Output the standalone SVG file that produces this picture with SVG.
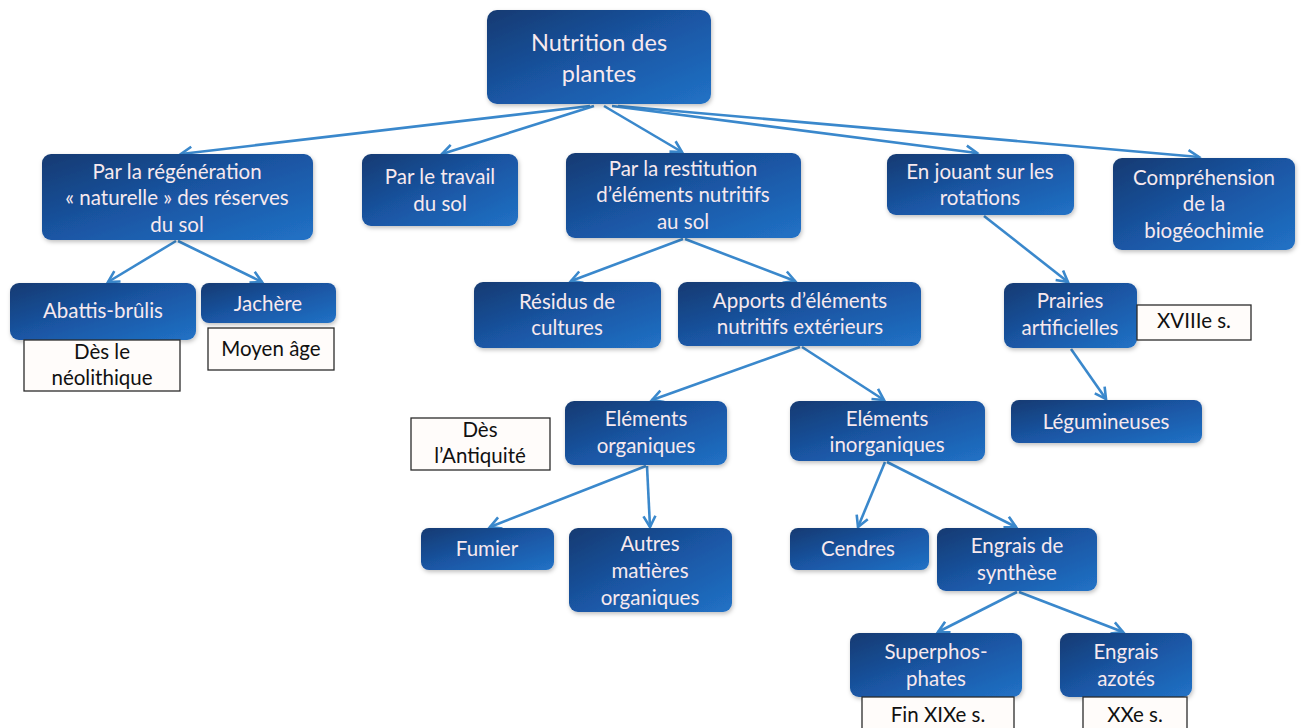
<svg xmlns="http://www.w3.org/2000/svg" width="1307" height="728" viewBox="0 0 1307 728">
<style>
.box{fill:url(#g);filter:url(#sh)}
.t{font-family:Lato,"Open Sans","Liberation Sans",sans-serif;font-size:20.5px;fill:#f7e9ee;text-anchor:middle}
.root{font-size:23.5px}
.lab{fill:#fffcfa;stroke:#2b2b2b;stroke-width:1.3}
.lt{font-family:Lato,"Open Sans","Liberation Sans",sans-serif;font-size:20.5px;fill:#111;text-anchor:middle}
.c line{stroke:#3a88cc;stroke-width:2.6;marker-end:url(#ah)}
</style>
<defs>
<linearGradient id="g" x1="0" y1="0" x2="1" y2="1">
<stop offset="0" stop-color="#143a72"/>
<stop offset="0.5" stop-color="#1a56a4"/>
<stop offset="1" stop-color="#2172c6"/>
</linearGradient>
<filter id="sh" x="-10%" y="-10%" width="125%" height="130%">
<feDropShadow dx="1" dy="2" stdDeviation="2" flood-color="#000" flood-opacity="0.25"/>
</filter>
<marker id="ah" markerUnits="userSpaceOnUse" markerWidth="18" markerHeight="18" viewBox="0 0 18 18" refX="15" refY="9" orient="auto">
<path d="M4,3 L15,9 L4,15" fill="none" stroke="#3a88cc" stroke-width="2.6" stroke-linejoin="miter"/>
</marker>
</defs>
<rect width="1307" height="728" fill="#fff"/>

<g id="connectors" class="c">
<line x1="590" y1="106" x2="181" y2="154"/>
<line x1="594" y1="106" x2="442" y2="154"/>
<line x1="604" y1="106" x2="682" y2="152"/>
<line x1="612" y1="106" x2="977" y2="153"/>
<line x1="618" y1="106" x2="1199" y2="157"/>
<line x1="176" y1="241" x2="108" y2="282"/>
<line x1="178" y1="241" x2="262" y2="282"/>
<line x1="683" y1="239" x2="571" y2="281"/>
<line x1="685" y1="239" x2="795" y2="281"/>
<line x1="800" y1="347" x2="652" y2="400"/>
<line x1="802" y1="347" x2="884" y2="400"/>
<line x1="646" y1="466" x2="490" y2="527"/>
<line x1="647" y1="466" x2="650" y2="527"/>
<line x1="885" y1="462" x2="858" y2="527"/>
<line x1="887" y1="462" x2="1016" y2="527"/>
<line x1="1017" y1="592" x2="938" y2="632"/>
<line x1="1019" y1="592" x2="1123" y2="632"/>
<line x1="984" y1="216" x2="1068" y2="282"/>
<line x1="1071" y1="349" x2="1106" y2="399"/>
</g>

<g id="root"><rect class="box" x="487" y="10" width="224" height="94" rx="10"/>
<text class="t root" x="599" y="51">Nutrition des</text><text class="t root" x="599" y="82">plantes</text></g>

<g id="n-regeneration"><rect class="box" x="42" y="154" width="271" height="86" rx="9"/>
<text class="t" x="177" y="179">Par la régénération</text><text class="t" x="177" y="205">« naturelle » des réserves</text><text class="t" x="177" y="232">du sol</text></g>

<g id="n-travail"><rect class="box" x="362" y="154" width="156" height="72" rx="9"/>
<text class="t" x="440" y="184">Par le travail</text><text class="t" x="440" y="211">du sol</text></g>

<g id="n-restitution"><rect class="box" x="566" y="153" width="235" height="85" rx="9"/>
<text class="t" x="683" y="176">Par la restitution</text><text class="t" x="683" y="202">d’éléments nutritifs</text><text class="t" x="683" y="229">au sol</text></g>

<g id="n-rotations"><rect class="box" x="887" y="154" width="187" height="61" rx="9"/>
<text class="t" x="980" y="179">En jouant sur les</text><text class="t" x="980" y="205">rotations</text></g>

<g id="n-biogeochimie"><rect class="box" x="1113" y="158" width="182" height="92" rx="9"/>
<text class="t" x="1204" y="185">Compréhension</text><text class="t" x="1204" y="211">de la</text><text class="t" x="1204" y="238">biogéochimie</text></g>

<g id="n-abattis"><rect class="box" x="10" y="283" width="186" height="57" rx="9"/>
<text class="t" x="103" y="318">Abattis-brûlis</text></g>
<g id="l-neolithique"><rect class="lab" x="24" y="340" width="156" height="51"/>
<text class="lt" x="102" y="359">Dès le</text><text class="lt" x="102" y="385">néolithique</text></g>

<g id="n-jachere"><rect class="box" x="201" y="283" width="135" height="40" rx="8"/>
<text class="t" x="268" y="311">Jachère</text></g>
<g id="l-moyenage"><rect class="lab" x="208" y="328" width="126" height="42"/>
<text class="lt" x="271" y="356">Moyen âge</text></g>

<g id="n-residus"><rect class="box" x="474" y="282" width="187" height="66" rx="9"/>
<text class="t" x="567" y="309">Résidus de</text><text class="t" x="567" y="335">cultures</text></g>

<g id="n-apports"><rect class="box" x="678" y="282" width="243" height="64" rx="9"/>
<text class="t" x="800" y="308">Apports d’éléments</text><text class="t" x="800" y="334">nutritifs extérieurs</text></g>

<g id="n-prairies"><rect class="box" x="1004" y="283" width="133" height="65" rx="9"/>
<text class="t" x="1070" y="308">Prairies</text><text class="t" x="1070" y="335">artificielles</text></g>
<g id="l-xviii"><rect class="lab" x="1137" y="305" width="114" height="35"/>
<text class="lt" x="1194" y="328">XVIIIe s.</text></g>

<g id="n-organiques"><rect class="box" x="565" y="401" width="162" height="64" rx="9"/>
<text class="t" x="646" y="426">Eléments</text><text class="t" x="646" y="453">organiques</text></g>
<g id="l-antiquite"><rect class="lab" x="411" y="418" width="139" height="52"/>
<text class="lt" x="480" y="437">Dès</text><text class="lt" x="480" y="463">l’Antiquité</text></g>

<g id="n-inorganiques"><rect class="box" x="790" y="401" width="195" height="60" rx="9"/>
<text class="t" x="887" y="426">Eléments</text><text class="t" x="887" y="452">inorganiques</text></g>

<g id="n-legumineuses"><rect class="box" x="1011" y="400" width="191" height="43" rx="8"/>
<text class="t" x="1106" y="429">Légumineuses</text></g>

<g id="n-fumier"><rect class="box" x="421" y="528" width="133" height="42" rx="8"/>
<text class="t" x="487" y="556">Fumier</text></g>

<g id="n-autres"><rect class="box" x="569" y="528" width="163" height="84" rx="9"/>
<text class="t" x="650" y="551">Autres</text><text class="t" x="650" y="578">matières</text><text class="t" x="650" y="605">organiques</text></g>

<g id="n-cendres"><rect class="box" x="790" y="528" width="139" height="42" rx="8"/>
<text class="t" x="858" y="556">Cendres</text></g>

<g id="n-synthese"><rect class="box" x="937" y="528" width="160" height="63" rx="9"/>
<text class="t" x="1017" y="553">Engrais de</text><text class="t" x="1017" y="580">synthèse</text></g>

<g id="n-superphosphates"><rect class="box" x="850" y="633" width="172" height="64" rx="9"/>
<text class="t" x="936" y="659">Superphos-</text><text class="t" x="936" y="686">phates</text></g>
<g id="l-finxix"><rect class="lab" x="862" y="697" width="152" height="34"/>
<text class="lt" x="938" y="722">Fin XIXe s.</text></g>

<g id="n-azotes"><rect class="box" x="1060" y="633" width="132" height="64" rx="9"/>
<text class="t" x="1126" y="659">Engrais</text><text class="t" x="1126" y="686">azotés</text></g>
<g id="l-xx"><rect class="lab" x="1083" y="697" width="104" height="34"/>
<text class="lt" x="1135" y="722">XXe s.</text></g>
</svg>
